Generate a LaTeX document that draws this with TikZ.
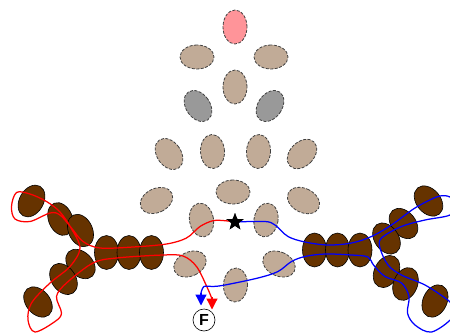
\documentclass[tikz,border=0pt]{standalone}
\usetikzlibrary{shapes.geometric,arrows.meta}
\usepackage{fontspec}
\setsansfont{Liberation Sans}
\definecolor{tan}{HTML}{C1AB97}
\definecolor{greyb}{HTML}{999999}
\definecolor{pinkb}{HTML}{FF9499}
\definecolor{brownb}{HTML}{663300}
\tikzset{
  blob/.style={shape=ellipse,inner sep=0pt,minimum width=24pt,minimum height=34pt},
  tanb/.style={blob,fill=tan,draw=black!75,dashed,dash pattern=on 3pt off 1.5pt,line width=.8pt},
  greyd/.style={tanb,fill=greyb},
  pinkd/.style={tanb,fill=pinkb},
  brownd/.style={blob,fill=brownb,draw=black,line width=.6pt},
  route/.style={line width=1.25pt,line cap=round},
  tip/.style={-{Triangle[length=11pt,width=11pt]}},
  starb/.style={star,star points=5,star point ratio=2.4,fill=black,inner sep=0pt,minimum size=18pt},
}
\begin{document}
\begin{tikzpicture}[x=1pt,y=-1pt]
\useasboundingbox (0,0) rectangle (450,335);
% upper groups
\node[pinkd] (p) at (235,27) {};
\node[tanb,rotate=90] (t1) at (197,57) {};
\node[tanb,rotate=90] (t2) at (271,57) {};
\node[tanb] (t3) at (235,87) {};
\node[greyd,rotate=35] (g1) at (198,106) {};
\node[greyd,rotate=-35] (g2) at (270,106) {};
\node[tanb,rotate=35] (t4) at (169,154) {};
\node[tanb,rotate=3] (t5) at (212.5,151.5) {};
\node[tanb,rotate=-3] (t6) at (258.5,151.5) {};
\node[tanb,rotate=-45] (t7) at (302,154) {};
\node[tanb,rotate=-65] (t8) at (156.5,200.5) {};
\node[tanb,rotate=90] (t9) at (233,192) {};
\node[tanb,rotate=63] (t10) at (303.5,200.5) {};
\node[tanb,rotate=10] (t11) at (201.5,220) {};
\node[tanb,rotate=-10] (t12) at (266,220) {};
\node[tanb,rotate=-65] (t13) at (190,264) {};
\node[tanb,rotate=65] (t14) at (279,264) {};
\node[tanb,rotate=-3] (t15) at (235.5,285) {};
% left brown
\node[brownd,rotate=-30] (l1) at (31.5,201) {};
\node[brownd,rotate=22] (l2) at (60.5,219) {};
\node[brownd,rotate=25] (l3) at (80.5,230.5) {};
\node[brownd] (l4) at (106.5,252.5) {};
\node[brownd] (l5) at (129,252.5) {};
\node[brownd] (l6) at (151.5,252.5) {};
\node[brownd,rotate=45] (l7) at (80.5,264) {};
\node[brownd,rotate=35] (l8) at (63.5,279) {};
\node[brownd,rotate=40] (l9) at (38,302) {};
% right brown
\node[brownd] (r4) at (314.5,250) {};
\node[brownd] (r5) at (337.5,250) {};
\node[brownd] (r6) at (360,250) {};
\node[brownd,rotate=40] (r1) at (428.5,201) {};
\node[brownd,rotate=40] (r2) at (403.5,223.5) {};
\node[brownd,rotate=35] (r3) at (386.5,238.5) {};
\node[brownd,rotate=-28] (r7) at (386.5,271.5) {};
\node[brownd,rotate=-22] (r8) at (405.5,284) {};
\node[brownd,rotate=-25] (r9) at (435,301) {};
% labels
\node[starb] (s) at (235,222) {};
\node[circle,draw=black,fill=white,line width=.6pt,inner sep=0pt,minimum size=22pt,font=\sffamily\bfseries\fontsize{16}{16}\selectfont] (f) at (204,320) {F};
\coordinate (redend) at (212,309.5);
\coordinate (blueend) at (201,305.5);
% routes
\draw[route,red] plot[smooth,tension=.55] coordinates {(s.center) (225,220.7) (213,220.7) (200,226.5) (186.5,238) (166.5,244) (133,247) (100,248) (83,241.5) (71.5,228) (60,215) (50,213) (30,221.5) (15,219) (11.5,206.5) (16.5,192.5) (30,194) (46.5,201.5) (60,212) (71,228) (80,248) (70,266.5) (50,283) (31.5,303) (28,320) (35,332) (55,321.5) (61.5,313) (56.5,296.5) (66.5,283) (93,263) (116.5,258) (163,255) (183,256) (196.5,266.5) (207,287) (212,299)};
\draw[red,tip,line width=1.25pt] (212,297) -- (redend);
\draw[route,blue] plot[smooth,tension=.55] coordinates {(s.center) (265,221.5) (275,225) (288,236.5) (305,242) (328,245) (351.5,243) (371.5,236.5) (391.5,225) (415,208) (438,196.5) (450,197) (456,205) (450,215) (425,220) (401.5,226.5) (381.5,238) (380,248) (388,265) (401.5,275) (425,285) (445,298) (452,305) (452,318) (431.5,332) (415,325) (407.5,313) (409,296.5) (401.5,283) (385,276.5) (373.5,265) (368,257) (351.5,255) (325,254) (305,256.5) (291.5,261.5) (278,271.5) (258,278) (225,285) (213,286.5) (204,286.5) (201,293)};
\draw[blue,tip,line width=1.25pt] (201,293) -- (blueend);
\node[starb] at (s) {};
\end{tikzpicture}
\end{document}
